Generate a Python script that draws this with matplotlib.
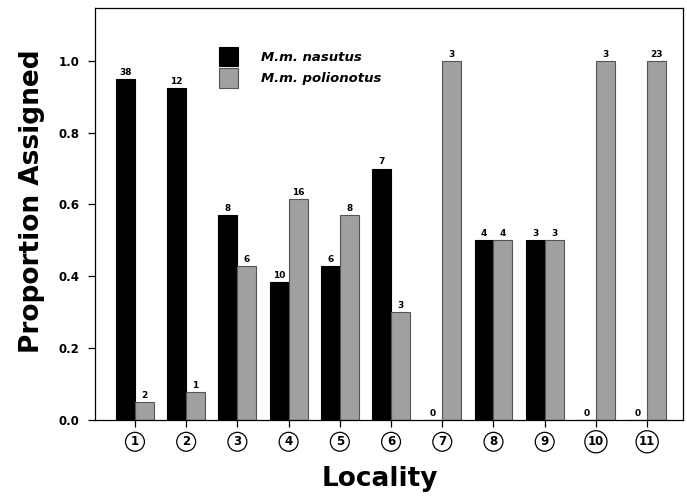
import matplotlib
matplotlib.use("Agg")
import matplotlib.pyplot as plt
import numpy as np

localities = ["1", "2", "3", "4", "5", "6", "7", "8", "9", "10", "11"]
nasutus = [0.95, 0.923, 0.571, 0.385, 0.429, 0.70, 0.0, 0.5, 0.5, 0.0, 0.0]
polionotus = [0.05, 0.077, 0.429, 0.615, 0.571, 0.30, 1.0, 0.5, 0.5, 1.0, 1.0]
n_nasutus = [38, 12, 8, 10, 6, 7, 0, 4, 3, 0, 0]
n_polionotus = [2, 1, 6, 16, 8, 3, 3, 4, 3, 3, 23]

plt.rcParams["font.family"] = ["DejaVu Sans"]

fig = plt.figure(figsize=(6.87, 5.0), dpi=100)
ax = fig.add_axes([95 / 687, 1 - 420 / 500, 588 / 687, 412 / 500])

x = np.arange(1, len(localities) + 1)
w = 0.37
ax.bar(x - w / 2, nasutus, w, color="black", edgecolor="black", linewidth=0.8,
       label="M.m. nasutus")
ax.bar(x + w / 2, polionotus, w, color="#a0a0a0", edgecolor="#555555", linewidth=0.8,
       label="M.m. polionotus")

for xi, v, n in zip(x - w / 2, nasutus, n_nasutus):
    ax.text(xi, v + 0.006, str(n), ha="center", va="bottom", fontsize=6.5, fontweight="bold")
for xi, v, n in zip(x + w / 2, polionotus, n_polionotus):
    ax.text(xi, v + 0.006, str(n), ha="center", va="bottom", fontsize=6.5, fontweight="bold")

ax.set_xlim(0.22, 11.7)
ax.set_ylim(0, 1.147)
ax.set_yticks([0.0, 0.2, 0.4, 0.6, 0.8, 1.0])
ax.set_yticklabels(["0.0", "0.2", "0.4", "0.6", "0.8", "1.0"], fontsize=8.5, fontweight="bold")
ax.set_xticks(x)
ax.set_xticklabels(localities, fontsize=8.5, fontweight="bold")
for lab in ax.get_xticklabels():
    lab.set_bbox(dict(boxstyle="circle,pad=0.25", fc="white", ec="black", lw=0.9))
ax.tick_params(axis="x", direction="out", length=5, width=0.9, pad=6)
ax.tick_params(axis="y", direction="out", length=5, width=0.9, pad=6)
for s in ax.spines.values():
    s.set_linewidth(0.9)

ax.set_xlabel("Locality", fontsize=19, fontweight="bold", labelpad=13)
ax.set_ylabel("Proportion Assigned", fontsize=19, fontweight="bold", labelpad=10)
ax.xaxis.label.set_x(0.484)
ax.yaxis.label.set_y(0.53)

ax.legend(loc="upper left", bbox_to_anchor=(0.19, 0.935), frameon=False,
          prop={"style": "italic", "weight": "bold", "size": 9.5},
          handlelength=1.5, handleheight=1.9, handletextpad=1.7, labelspacing=0.15)

fig.savefig("out.png", dpi=100)
plt.close(fig)
